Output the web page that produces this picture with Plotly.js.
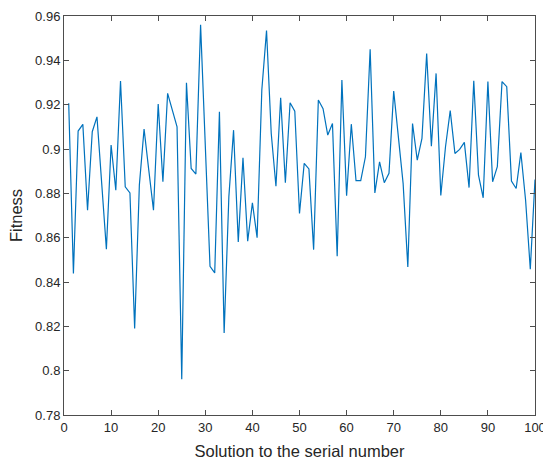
<!DOCTYPE html>
<html><head><meta charset="utf-8">
<script src="https://cdn.plot.ly/plotly-3.0.1.min.js"></script>
<style>html,body{margin:0;padding:0;background:#fff}</style>
</head><body>
<div id="chart" style="width:543px;height:466px"></div>
<script>
const serial = Array.from({length:100},(_,k)=>k+1);
const fitness = [
 0.9206,0.8438,0.9081,0.9111,0.8724,0.9078,0.9145,0.8850,0.8548,0.9018,
 0.8814,0.9307,0.8829,0.8802,0.8190,0.8837,0.9090,0.8905,0.8724,0.9203,
 0.8852,0.9251,0.9180,0.9100,0.7961,0.9299,0.8912,0.8887,0.9560,0.9016,
 0.8471,0.8441,0.9168,0.8170,0.8784,0.9085,0.8581,0.8960,0.8584,0.8757,
 0.8600,0.9266,0.9534,0.9070,0.8832,0.9231,0.8848,0.9209,0.9171,0.8709,
 0.8935,0.8910,0.8546,0.9221,0.9182,0.9063,0.9115,0.8516,0.9311,0.8789,
 0.9112,0.8857,0.8857,0.8965,0.9450,0.8802,0.8942,0.8848,0.8890,0.9261,
 0.9040,0.8845,0.8468,0.9115,0.8950,0.9048,0.9431,0.9013,0.9341,0.8790,
 0.9010,0.9173,0.8980,0.8998,0.9030,0.8826,0.9308,0.8882,0.8780,0.9304,
 0.8852,0.8920,0.9304,0.9281,0.8855,0.8822,0.8984,0.8770,0.8458,0.8862
];
const xTicks = [0,10,20,30,40,50,60,70,80,90,100];
const yTicks = [0.78,0.80,0.82,0.84,0.86,0.88,0.90,0.92,0.94,0.96];
const yTickText = ['0.78','0.8','0.82','0.84','0.86','0.88','0.9','0.92','0.94','0.96'];
const fnt = {family:'"Liberation Sans", Arial, sans-serif', size:13, color:'#262626'};
const tfnt = {family:'"Liberation Sans", Arial, sans-serif', size:16.5, color:'#262626'};
Plotly.newPlot('chart',[{
  x: serial, y: fitness, type:'scatter', mode:'lines',
  line:{color:'#0072BD', width:1.2}
}],{
  width:543, height:466,
  margin:{l:64, r:8, t:16, b:51},
  paper_bgcolor:'#fff', plot_bgcolor:'#fff',
  showlegend:false,
  font:fnt,
  xaxis:{range:[0,100], tickvals:xTicks, ticks:'inside', ticklen:5, tickcolor:'#4d4d4d',
    ticklabeloverflow:'allow',
    showline:true, linecolor:'#4d4d4d', linewidth:1, mirror:'ticks', showgrid:false, zeroline:false,
    tickfont:fnt, title:{text:'Solution to the serial number', font:tfnt, standoff:11}},
  yaxis:{range:[0.78,0.96], tickvals:yTicks, ticktext:yTickText, ticks:'inside', ticklen:5, tickcolor:'#4d4d4d',
    showline:true, linecolor:'#4d4d4d', linewidth:1, mirror:'ticks', showgrid:false, zeroline:false,
    tickfont:fnt, title:{text:'Fitness', font:tfnt, standoff:8}}
},{displayModeBar:false, staticPlot:true});
</script>
</body></html>
